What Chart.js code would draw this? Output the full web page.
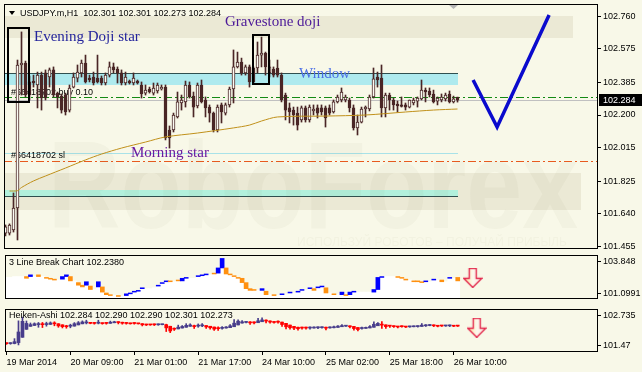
<!DOCTYPE html>
<html>
<head>
<meta charset="utf-8">
<script src="https://cdn.jsdelivr.net/npm/chart.js@4.4.0/dist/chart.umd.min.js"></script>
<style>
  html, body { margin: 0; padding: 0; background: #f8f8e8; }
  #wrap { position: relative; width: 642px; height: 372px; overflow: hidden; background: #f8f8e8; }
  canvas { position: absolute; left: 0; }
</style>
</head>
<body>
<div id="wrap">
  <canvas id="main" width="642" height="250" style="top:0"></canvas>
  <canvas id="lb" width="642" height="54" style="top:250px"></canvas>
  <canvas id="ha" width="642" height="68" style="top:304px"></canvas>
</div>
<script>
// USDJPY.m H1 candles, 19 Mar 17:00 .. 26 Mar 11:00
const opens  = [101.532,101.532,101.550,101.674,102.483,102.494,102.387,102.392,102.370,102.426,102.438,102.415,102.455,102.324,102.307,102.313,102.228,102.358,102.409,102.438,102.494,102.409,102.415,102.409,102.409,102.381,102.426,102.472,102.460,102.438,102.381,102.392,102.381,102.392,102.370,102.324,102.347,102.324,102.336,102.347,102.358,102.115,102.115,102.189,102.268,102.274,102.370,102.307,102.251,102.370,102.285,102.245,102.211,102.115,102.257,102.211,102.257,102.347,102.472,102.500,102.438,102.472,102.466,102.466,102.539,102.551,102.438,102.460,102.466,102.426,102.313,102.240,102.228,102.211,102.172,102.240,102.172,102.223,102.240,102.240,102.240,102.240,102.217,102.274,102.285,102.285,102.285,102.240,102.127,102.160,102.234,102.234,102.302,102.415,102.409,102.240,102.313,102.285,102.262,102.257,102.257,102.245,102.268,102.279,102.291,102.341,102.336,102.319,102.279,102.285,102.291,102.319,102.274,102.301];
const highs  = [101.578,101.584,101.759,102.511,102.670,102.505,102.421,102.426,102.443,102.443,102.455,102.466,102.472,102.330,102.319,102.324,102.370,102.438,102.483,102.511,102.539,102.426,102.443,102.539,102.421,102.438,102.500,102.494,102.472,102.455,102.443,102.398,102.438,102.398,102.387,102.370,102.358,102.381,102.381,102.370,102.370,102.138,102.211,102.330,102.313,102.392,102.387,102.330,102.381,102.398,102.302,102.257,102.217,102.257,102.268,102.268,102.358,102.568,102.556,102.522,102.483,102.483,102.472,102.613,102.641,102.556,102.511,102.472,102.511,102.438,102.324,102.268,102.245,102.245,102.251,102.251,102.257,102.257,102.257,102.257,102.251,102.257,102.285,102.313,102.353,102.313,102.296,102.257,102.200,102.245,102.251,102.313,102.466,102.443,102.483,102.324,102.324,102.296,102.279,102.302,102.268,102.285,102.296,102.302,102.398,102.353,102.353,102.341,102.302,102.319,102.324,102.336,102.307,102.301];
const lows   = [101.516,101.521,101.538,101.493,102.313,102.302,102.285,102.358,102.240,102.228,102.285,102.358,102.302,102.240,102.211,102.200,102.217,102.353,102.387,102.415,102.381,102.387,102.370,102.381,102.370,102.370,102.415,102.438,102.381,102.370,102.370,102.375,102.370,102.375,102.296,102.313,102.324,102.313,102.324,102.341,102.059,102.013,102.104,102.183,102.228,102.245,102.296,102.189,102.240,102.268,102.189,102.160,102.104,102.104,102.155,102.200,102.245,102.268,102.466,102.426,102.426,102.358,102.381,102.438,102.472,102.426,102.415,102.415,102.415,102.274,102.172,102.155,102.143,102.115,102.160,102.160,102.160,102.200,102.183,102.200,102.132,102.200,102.211,102.268,102.274,102.274,102.217,102.115,102.087,102.155,102.189,102.223,102.296,102.358,102.189,102.189,102.228,102.228,102.217,102.245,102.228,102.240,102.257,102.245,102.285,102.274,102.302,102.268,102.257,102.274,102.279,102.268,102.268,102.273];
const closes = [101.567,101.578,101.674,102.483,102.494,102.313,102.313,102.381,102.426,102.296,102.296,102.455,102.313,102.302,102.228,102.217,102.353,102.415,102.443,102.494,102.387,102.398,102.381,102.387,102.381,102.426,102.472,102.455,102.438,102.381,102.415,102.381,102.409,102.381,102.319,102.341,102.330,102.353,102.370,102.358,102.070,102.070,102.200,102.274,102.285,102.370,102.302,102.245,102.370,102.274,102.240,102.211,102.115,102.245,102.217,102.257,102.347,102.472,102.500,102.438,102.472,102.387,102.387,102.539,102.551,102.472,102.472,102.426,102.426,102.285,102.228,102.217,102.200,102.143,102.240,102.172,102.245,102.234,102.211,102.217,102.183,102.211,102.274,102.302,102.330,102.302,102.240,102.127,102.160,102.234,102.245,102.302,102.404,102.398,102.240,102.313,102.285,102.257,102.251,102.248,102.245,102.285,102.285,102.296,102.341,102.330,102.313,102.274,102.296,102.302,102.313,102.274,102.291,102.284];

// moving average, read at a few bars
const maBars = [1, 3, 4, 7, 10, 15, 20, 24, 29, 35, 40, 48, 57, 61, 64, 68, 80, 90, 100, 107, 113];
const maVals = [101.770, 101.772, 101.790, 101.827, 101.855, 101.900, 101.946, 101.979, 102.013, 102.047, 102.076, 102.098, 102.127, 102.143, 102.166, 102.189, 102.194, 102.200, 102.217, 102.228, 102.234];

// levels drawn on the main panel
const windowBand = [102.370, 102.438];
const gapBand    = [101.742, 101.776];
const slLevel    = 101.985;
const buyLevel   = 102.302;
const stopLevel  = 101.940;
const bidLevel   = 102.284;
const objEndBar  = 113;

// pattern boxes: [from bar, to bar], [low, high]
const boxBars   = [[0.6, 5.9], [61.9, 65.9]];
const boxPrices = [[102.274, 102.692], [102.375, 102.653]];

// forecast check mark
const checkBars = [116.9, 122.9, 135.9];
const checkVals = [102.398, 102.132, 102.766];

// 3 Line Break bricks (low, high, dir: 1 up, -1 down, 0 none)
const lbLow  = [102.473,102.473,102.546,102.546,102.546,102.401,102.546,102.546,102.546,102.546,102.401,102.329,102.256,102.256,102.329,102.546,102.184,102.184,101.822,101.678,101.822,101.460,101.460,101.678,101.243,101.026,100.954,100.954,100.882,100.882,100.954,101.099,101.243,101.316,101.533,101.533,101.533,101.605,101.750,101.967,102.112,102.112,102.112,102.184,102.184,102.401,102.401,102.401,102.546,102.618,102.690,102.690,102.763,102.835,103.269,102.763,102.690,102.546,102.401,102.039,101.533,101.388,101.388,101.388,101.388,101.026,101.026,100.954,100.954,101.026,101.026,101.171,101.171,101.243,101.388,101.388,101.533,101.388,101.605,101.678,101.171,101.171,101.026,101.026,101.026,100.954,101.026,101.243,101.243,101.243,101.243,101.243,101.243,101.460,102.473,102.546,102.546,102.546,102.473,102.401,102.256,102.256,102.112,102.112,102.039,102.112,102.112,102.256,102.256,102.112,102.112,102.401,102.401,102.184];
const lbHigh = [102.473,102.473,102.546,102.546,102.546,102.546,102.690,102.546,102.690,102.546,102.473,102.401,102.329,102.256,102.546,102.690,102.546,102.184,102.039,101.822,102.112,101.750,101.460,102.112,101.678,101.171,101.026,100.954,100.954,100.882,101.099,101.171,101.316,101.388,101.605,101.533,101.533,101.605,101.822,102.039,102.184,102.184,102.112,102.256,102.401,102.473,102.401,102.401,102.618,102.690,102.763,102.690,102.835,103.269,104.065,103.269,102.763,102.618,102.473,102.401,102.039,101.533,101.460,101.388,101.533,101.316,101.026,101.026,100.954,101.099,101.026,101.243,101.171,101.316,101.460,101.388,101.605,101.533,101.678,101.750,101.605,101.171,101.099,101.026,101.243,101.026,101.243,101.316,101.243,101.243,101.243,101.243,101.460,102.473,102.546,102.546,102.546,102.546,102.546,102.473,102.329,102.256,102.184,102.184,102.112,102.184,102.112,102.329,102.256,102.256,102.112,102.473,102.401,102.473];
const lbDir  = [0,0,0,0,0,-1,1,0,-1,0,-1,-1,-1,0,1,1,-1,0,-1,-1,1,-1,0,1,-1,-1,-1,0,-1,0,1,1,1,1,1,0,0,0,1,1,1,-1,0,-1,1,1,0,0,1,1,1,0,-1,1,1,-1,-1,-1,-1,-1,-1,-1,-1,0,1,-1,0,-1,0,1,0,1,0,1,1,0,1,-1,1,1,-1,0,-1,0,1,-1,1,1,0,0,0,0,1,1,1,0,0,0,-1,-1,-1,0,-1,-1,-1,1,0,1,0,-1,0,1,0,-1];
const lbArrow = { x: 116.75, y: 102.437 };
const haArrow = { x: 117.75, y: 102.221 };

// axes
const timeBars   = [0, 16, 32, 48, 64, 80, 96, 112];
const timeLabels = ['19 Mar 2014', '20 Mar 09:00', '21 Mar 01:00', '21 Mar 17:00', '24 Mar 10:00', '25 Mar 02:00', '25 Mar 18:00', '26 Mar 10:00'];
const mainTicks  = [102.760, 102.575, 102.385, 102.200, 102.015, 101.825, 101.640, 101.455];
const mainLabels = ['102.760', '102.575', '102.385', '102.200', '102.015', '101.825', '101.640', '101.455'];
const lbTicks    = [103.848, 101.0991];
const lbLabels   = ['103.848', '101.0991'];
const haTicks    = [102.735, 101.47];
const haLabels   = ['102.735', '101.47'];

const FONT = '"Liberation Sans", Arial, sans-serif';
Chart.defaults.font.family = FONT;
Chart.defaults.font.size = 9;
Chart.defaults.color = '#000';
Chart.defaults.animation = false;
Chart.defaults.responsive = false;
Chart.defaults.plugins.legend.display = false;
Chart.defaults.plugins.tooltip.enabled = false;

const X_MIN = -0.375, X_MAX = 148.125;
const CANDLE = '#4a2626';

function xAxis(show) {
  const ax = { type: 'linear', min: X_MIN, max: X_MAX, offset: false, display: show, grid: { display: false, offset: false } };
  if (show) {
    Object.assign(ax, {
      afterBuildTicks: s => { s.ticks = timeBars.map(v => ({ value: v })); },
      afterFit: s => { s.height = 20; s.paddingLeft = 0; s.paddingRight = 0; },
      ticks: { align: 'start', padding: 2, maxRotation: 0, autoSkip: false, callback: (v, i) => timeLabels[i] },
      grid: { display: true, offset: false, drawOnChartArea: false, tickLength: 3, color: '#000' },
      border: { display: false }
    });
  }
  return ax;
}
function yAxis(min, max, ticks, labels) {
  return {
    type: 'linear', position: 'right', min, max,
    afterBuildTicks: s => { s.ticks = ticks.map(v => ({ value: v })); },
    afterFit: s => { s.width = 44; s.paddingTop = 0; s.paddingBottom = 0; },
    ticks: { padding: 2, autoSkip: false, callback: (v, i) => labels[i] },
    grid: { drawOnChartArea: false, tickLength: 3, color: '#000' },
    border: { display: false }
  };
}

function hline(ctx, x1, x2, y, color, dash) {
  ctx.beginPath();
  ctx.setLineDash(dash || []);
  ctx.strokeStyle = color;
  ctx.lineWidth = 1;
  ctx.moveTo(x1, y + 0.5);
  ctx.lineTo(x2, y + 0.5);
  ctx.stroke();
  ctx.setLineDash([]);
}

const frame = {
  id: 'frame',
  afterDraw(ch) {
    const { ctx, chartArea: a } = ch;
    ctx.save();
    ctx.strokeStyle = '#000';
    ctx.lineWidth = 1;
    ctx.strokeRect(a.left + 0.5, a.top + 0.5, a.right - a.left - 1, a.bottom - a.top - 1);
    ctx.restore();
  }
};

const mainDecor = {
  id: 'mainDecor',
  beforeDatasetsDraw(ch) {
    const { ctx, chartArea: a, scales: { x, y } } = ch;
    const py = v => Math.round(y.getPixelForValue(v));
    const xe = Math.round(x.getPixelForValue(objEndBar));
    ctx.save();
    ctx.beginPath(); ctx.rect(a.left, a.top, a.right - a.left, a.bottom - a.top); ctx.clip();
    ctx.fillStyle = '#ebe9d5';
    ctx.fillRect(a.left, 16, 569, 22);
    ctx.fillRect(a.left, 173, 577, 37);

    let t = py(windowBand[1]), b = py(windowBand[0]);
    ctx.fillStyle = '#aeeaee';
    ctx.fillRect(a.left, t, xe - a.left, b - t);
    hline(ctx, a.left, xe, t, '#2f4f4f');

    t = py(gapBand[1]); b = py(gapBand[0]);
    ctx.fillStyle = '#b2f0dc';
    ctx.fillRect(a.left, t, xe - a.left, b - t);
    hline(ctx, a.left, xe, b, '#2f4f4f');

    hline(ctx, a.left, xe, py(slLevel), '#a8e2e8');
    hline(ctx, a.left, a.right, py(bidLevel), '#c0c0c0');
    hline(ctx, a.left, a.right, py(buyLevel), '#138a13', [8, 3, 2, 3]);
    hline(ctx, a.left, a.right, py(stopLevel), '#e85a1e', [8, 3, 2, 3]);

    ctx.font = '9px ' + FONT;
    ctx.fillStyle = '#000';
    ctx.fillText('#66418702 buy 0.10', 11, 95);
    ctx.fillText('#66418702 sl', 11, 158);
    ctx.restore();
  },
  afterDatasetsDraw(ch) {
    const { ctx, chartArea: a, scales: { x, y } } = ch;
    ctx.save();
    ctx.beginPath(); ctx.rect(a.left, a.top, a.right - a.left, a.bottom - a.top); ctx.clip();

    // faint watermark
    ctx.fillStyle = 'rgba(110,110,80,0.045)';
    ctx.font = 'bold 124px ' + FONT;
    ctx.fillText('RoboForex', 48, 228, 530);
    ctx.font = '12px ' + FONT;
    ctx.fillText('ИСПОЛЬЗУЙ РОБОТОВ – ПОЛУЧАЙ ПРИБЫЛЬ', 297, 246, 282);

    // pattern boxes
    ctx.strokeStyle = '#000';
    ctx.lineWidth = 2;
    boxBars.forEach((bb, k) => {
      const x1 = Math.round(x.getPixelForValue(bb[0])), x2 = Math.round(x.getPixelForValue(bb[1]));
      const y1 = Math.round(y.getPixelForValue(boxPrices[k][1])), y2 = Math.round(y.getPixelForValue(boxPrices[k][0]));
      ctx.strokeRect(x1, y1, x2 - x1, y2 - y1);
    });

    // pattern names
    ctx.font = '15px "Liberation Serif", "Times New Roman", serif';
    ctx.fillStyle = '#24249c'; ctx.fillText('Evening Doji star', 34, 41);
    ctx.fillStyle = '#4b1898'; ctx.fillText('Gravestone doji', 225, 26);
    ctx.fillStyle = '#4a6ee6'; ctx.fillText('Window', 299, 78);
    ctx.fillStyle = '#6a1aa0'; ctx.fillText('Morning star', 131, 157);

    // title
    ctx.fillStyle = '#000';
    ctx.beginPath(); ctx.moveTo(9, 11); ctx.lineTo(15, 11); ctx.lineTo(12, 15); ctx.closePath(); ctx.fill();
    ctx.font = '9px ' + FONT;
    ctx.fillText('USDJPY.m,H1  102.301 102.301 102.273 102.284', 20, 16);

    // chart shift marker
    ctx.fillStyle = '#b4b4b4';
    ctx.beginPath(); ctx.moveTo(449, 5); ctx.lineTo(458, 5); ctx.lineTo(453.5, 9); ctx.closePath(); ctx.fill();
    ctx.restore();
  },
  afterDraw(ch) {
    const { ctx, chartArea: a, scales: { y } } = ch;
    const yc = Math.round(y.getPixelForValue(bidLevel));
    ctx.save();
    ctx.fillStyle = '#000';
    ctx.fillRect(a.right + 1, yc - 6, 44, 12);
    ctx.fillStyle = '#fff';
    ctx.font = '9px ' + FONT;
    ctx.textBaseline = 'middle';
    ctx.fillText(bidLevel.toFixed(3), a.right + 5, yc + 0.5);
    ctx.restore();
  }
};

function panelLabel(id, text, yBase) {
  return {
    id,
    afterDatasetsDraw(ch) {
      const ctx = ch.ctx;
      ctx.save();
      ctx.font = '9px ' + FONT;
      ctx.fillStyle = '#000';
      ctx.fillText(text, 9, yBase);
      ctx.restore();
    }
  };
}

function makeArrow() {
  const c = document.createElement('canvas');
  c.width = 20; c.height = 20;
  const g = c.getContext('2d');
  g.beginPath();
  g.moveTo(6.5, 0.5); g.lineTo(13.5, 0.5); g.lineTo(13.5, 10.5); g.lineTo(19, 10.5);
  g.lineTo(10, 19.5); g.lineTo(1, 10.5); g.lineTo(6.5, 10.5); g.closePath();
  const grad = g.createLinearGradient(0, 0, 20, 0);
  grad.addColorStop(0, 'rgba(255,200,90,0.8)');
  grad.addColorStop(0.5, 'rgba(255,250,240,0.6)');
  grad.addColorStop(1, 'rgba(255,210,220,0.6)');
  g.fillStyle = grad; g.fill();
  g.strokeStyle = '#e2284c'; g.lineWidth = 1.4; g.stroke();
  return c;
}
const arrowImg = makeArrow();

const idx = closes.map((_, i) => i);

// main price panel
new Chart(document.getElementById('main'), {
  type: 'bar',
  data: {
    datasets: [
      {
        type: 'line', order: 0,
        data: checkBars.map((b, k) => ({ x: b, y: checkVals[k] })),
        borderColor: '#0a0acd', borderWidth: 3.5, pointRadius: 0, borderJoinStyle: 'miter'
      },
      {
        type: 'line', order: 1,
        data: maBars.map((b, k) => ({ x: b, y: maVals[k] })),
        borderColor: '#c0901a', borderWidth: 1, pointRadius: 0, tension: 0.3
      },
      {
        order: 2, grouped: false,
        data: idx.map(i => ({ x: i, y: [Math.min(opens[i], closes[i]), Math.max(opens[i], closes[i])] })),
        backgroundColor: idx.map(i => closes[i] >= opens[i] ? '#fbfbf3' : CANDLE),
        borderColor: CANDLE, borderWidth: 1, borderSkipped: false, barThickness: 3, minBarLength: 1
      },
      {
        order: 3, grouped: false,
        data: idx.map(i => ({ x: i, y: [lows[i], highs[i]] })),
        backgroundColor: CANDLE, borderWidth: 0, barThickness: 1
      }
    ]
  },
  options: {
    layout: { padding: { left: 4, top: 4, right: 0, bottom: 1 } },
    scales: { x: xAxis(false), y: yAxis(101.442, 102.828, mainTicks, mainLabels) }
  },
  plugins: [mainDecor, frame]
});

// 3 Line Break panel
const LB_MIN = 100.665, LB_MAX = 104.354;
new Chart(document.getElementById('lb'), {
  type: 'bar',
  data: {
    datasets: [
      {
        type: 'line', order: 0, showLine: false,
        data: [lbArrow], pointStyle: arrowImg
      },
      {
        order: 1, grouped: false,
        data: idx.filter(i => lbDir[i] !== 0).map(i => ({ x: i, y: [lbLow[i], lbHigh[i]] })),
        backgroundColor: idx.filter(i => lbDir[i] !== 0).map(i => lbDir[i] > 0 ? '#0000ff' : '#ff9010'),
        borderWidth: 0, barThickness: 4
      },
      {
        order: 2, grouped: false,
        data: idx.map(i => ({ x: i, y: [LB_MIN, lbLow[i]] })),
        backgroundColor: '#ffffff', borderWidth: 0, barThickness: 4
      }
    ]
  },
  options: {
    layout: { padding: { left: 4, top: 2, right: 0, bottom: 1 } },
    scales: { x: xAxis(false), y: yAxis(LB_MIN, LB_MAX, lbTicks, lbLabels) }
  },
  plugins: [panelLabel('lbLabel', '3 Line Break Chart 102.2380', 15), frame]
});

// Heiken-Ashi panel, built from the candles above
const haO = [], haC = [], haH = [], haL = [];
idx.forEach(i => {
  const c = (opens[i] + highs[i] + lows[i] + closes[i]) / 4;
  const o = i ? (haO[i - 1] + haC[i - 1]) / 2 : (opens[i] + closes[i]) / 2;
  haO.push(o); haC.push(c);
  haH.push(Math.max(highs[i], o, c)); haL.push(Math.min(lows[i], o, c));
});
const haCol = idx.map(i => haC[i] >= haO[i] ? '#483d8b' : '#ff0000');

new Chart(document.getElementById('ha'), {
  type: 'bar',
  data: {
    datasets: [
      {
        type: 'line', order: 0, showLine: false,
        data: [haArrow], pointStyle: arrowImg
      },
      {
        order: 1, grouped: false,
        data: idx.map(i => ({ x: i, y: [Math.min(haO[i], haC[i]), Math.max(haO[i], haC[i])] })),
        backgroundColor: haCol, borderWidth: 0, barThickness: 3, minBarLength: 1
      },
      {
        order: 2, grouped: false,
        data: idx.map(i => ({ x: i, y: [haL[i], haH[i]] })),
        backgroundColor: haCol, borderWidth: 0, barThickness: 1
      }
    ]
  },
  options: {
    layout: { padding: { left: 4, top: 2, right: 0, bottom: 0 } },
    scales: { x: xAxis(true), y: yAxis(101.194, 103.012, haTicks, haLabels) }
  },
  plugins: [panelLabel('haLabel', 'Heiken-Ashi 102.284 102.290 102.290 102.301 102.273', 14), frame]
});
</script>
</body>
</html>
